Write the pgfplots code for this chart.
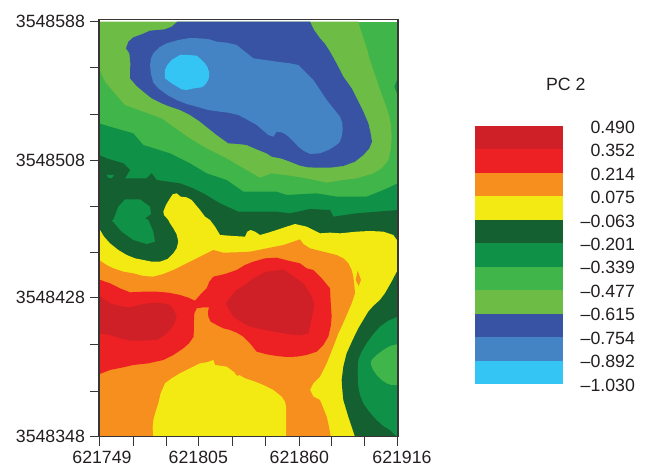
\documentclass[border=0pt]{standalone}
\usepackage{fontspec}
\setmainfont{Liberation Sans}
\usepackage{pgfplots}
\pgfplotsset{compat=1.18}
\definecolor{cDkRed}{HTML}{CF2027}
\definecolor{cRed}{HTML}{ED2024}
\definecolor{cOrange}{HTML}{F78F1E}
\definecolor{cYellow}{HTML}{F3EA14}
\definecolor{cDkGreen}{HTML}{156030}
\definecolor{cGreen}{HTML}{0F9147}
\definecolor{cLtGreen}{HTML}{40B549}
\definecolor{cOlive}{HTML}{6DBC45}
\definecolor{cBlue}{HTML}{3953A4}
\definecolor{cMidBlue}{HTML}{4484C4}
\definecolor{cCyan}{HTML}{35C5F4}
\definecolor{cText}{HTML}{231F20}
\pgfplotsset{region/.style={fill=#1,draw=none,mark=none}}
\begin{document}
\begin{tikzpicture}[x=1pt,y=1pt]
\useasboundingbox (0,0) rectangle (488.25,349.5);
% map, coordinates are in plot units: x along easting, y down from the top
\begin{axis}[
  at={(74.25pt,22pt)},anchor=south west,
  scale only axis,width=224.25pt,height=313pt,
  xmin=27,xmax=924,ymin=58,ymax=1310,
  y dir=reverse,
  axis on top,
  tick pos=left,
  tick align=outside,
  axis line style={draw=cText!90,line width=0.9pt},
  every tick/.style={draw=cText!90,line width=0.7pt},
  major tick length=7pt,minor tick length=7pt,
  xtick={28,325,628,922},
  xticklabels={\hspace{4pt}621749,621805,621860,\hspace{7pt}621916},
  minor xtick={130,228,428,525,725,823},
  ytick={65,482,893,1310},
  yticklabels={3548588,3548508,3548428,3548348},
  minor ytick={202,342,618,758,1033,1175},
  tick label style={font=\fontsize{13.3}{15}\selectfont,text=cText},
]
\addplot[region=cLtGreen] coordinates {(27,65)(924,65)(924,1310)(27,1310)} --cycle;
\addplot[region=cGreen] coordinates {(924,232)(913,260)(924,288)} --cycle;
\addplot[region=cOlive] coordinates {(27,65)(805,65)(812,90)(822,120)(832,150)(838,175)(850,210)(860,240)(872,275)(885,310)(897,345)(903,375)(905,410)(903,445)(895,480)(875,505)(850,520)(800,535)(760,540)(710,548)(650,535)(600,527)(545,520)(510,533)(470,510)(410,475)(350,445)(300,415)(250,380)(215,355)(160,335)(105,315)(70,275)(45,245)(27,205)} --cycle;
\addplot[region=cBlue] coordinates {(262,65)(245,80)(225,88)(180,92)(155,103)(130,112)(115,125)(108,145)(118,160)(121,190)(120,235)(140,258)(160,275)(185,295)(215,310)(240,320)(270,330)(300,345)(330,365)(355,385)(380,405)(415,430)(445,432)(470,435)(500,448)(530,460)(545,470)(575,476)(600,485)(630,497)(655,502)(680,503)(720,503)(760,498)(795,485)(820,465)(838,445)(846,425)(842,400)(835,370)(820,335)(800,295)(785,265)(760,230)(742,195)(720,155)(705,132)(690,115)(672,90)(660,65)} --cycle;
\addplot[region=cMidBlue] coordinates {(180,195)(183,175)(190,160)(208,142)(230,130)(248,125)(265,120)(300,114)(330,115)(358,118)(380,125)(410,128)(440,135)(465,155)(490,175)(525,180)(560,185)(600,190)(625,195)(648,218)(670,240)(690,270)(710,300)(730,325)(750,350)(757,370)(758,390)(755,410)(748,428)(732,440)(715,450)(690,460)(660,462)(640,452)(625,440)(608,422)(590,405)(575,397)(560,395)(550,410)(535,405)(500,375)(470,358)(445,345)(415,338)(390,335)(355,330)(320,320)(290,312)(260,300)(232,285)(205,265)(190,248)(183,222)} --cycle;
\addplot[region=cCyan] coordinates {(225,210)(232,195)(245,180)(258,172)(270,165)(295,165)(320,167)(333,178)(345,190)(353,203)(357,215)(357,230)(355,240)(345,255)(335,262)(312,265)(290,270)(275,268)(265,262)(245,250)(225,235)} --cycle;
\addplot[region=cGreen] coordinates {(27,370)(60,380)(130,400)(160,435)(240,460)(300,490)(350,520)(410,540)(460,575)(500,575)(560,575)(590,585)(680,580)(740,590)(830,590)(880,570)(924,550)(924,1310)(27,1310)} --cycle;
\addplot[region=cDkGreen] coordinates {(27,465)(50,475)(100,490)(120,510)(105,535)(170,535)(185,520)(200,540)(270,550)(310,565)(340,580)(390,610)(445,635)(560,635)(600,640)(660,627)(720,630)(730,650)(800,640)(924,630)(924,1310)(27,1310)} --cycle;
\addplot[region=cGreen] coordinates {(50,525)(72,525)(65,535)(55,533)} --cycle;
\addplot[region=cGreen] coordinates {(70,660)(85,620)(105,598)(150,598)(180,620)(183,642)(165,655)(175,660)(190,695)(195,725)(170,732)(130,720)(95,695)(65,660)} --cycle;
\addplot[region=cYellow] coordinates {(27,685)(42,710)(60,730)(85,750)(110,765)(135,775)(160,780)(185,785)(210,785)(233,777)(250,760)(260,745)(265,725)(260,703)(250,685)(240,670)(235,660)(222,645)(220,635)(228,615)(240,595)(248,583)(260,580)(272,590)(290,592)(305,600)(330,630)(345,650)(360,660)(375,680)(390,705)(430,708)(465,710)(472,695)(482,690)(495,695)(510,705)(535,698)(560,690)(590,680)(615,672)(650,680)(690,700)(720,698)(750,700)(800,695)(840,693)(880,695)(910,705)(922,722)(924,1310)(27,1310)} --cycle;
\addplot[region=cOrange] coordinates {(27,780)(50,795)(70,805)(100,815)(130,820)(160,828)(190,830)(220,822)(250,810)(280,795)(310,780)(340,765)(370,750)(400,758)(440,757)(480,755)(530,745)(580,735)(610,725)(630,718)(640,732)(660,745)(700,755)(740,765)(760,775)(775,790)(785,810)(790,830)(793,855)(795,880)(785,910)(770,945)(757,975)(745,1000)(730,1040)(710,1090)(690,1130)(670,1150)(660,1170)(670,1190)(690,1200)(700,1225)(710,1250)(717,1280)(722,1310)(27,1310)} --cycle;
\addplot[region=cOrange] coordinates {(803,812)(813,840)(806,858)(797,840)} --cycle;
\addplot[region=cRed] coordinates {(27,838)(45,845)(60,850)(90,865)(120,877)(160,875)(200,875)(235,878)(270,885)(295,893)(315,902)(330,885)(350,865)(358,845)(370,830)(405,822)(440,810)(465,795)(490,785)(525,775)(560,773)(595,782)(630,790)(650,805)(670,810)(695,835)(720,865)(722,905)(725,950)(722,980)(715,1010)(700,1035)(680,1055)(650,1065)(620,1070)(590,1071)(560,1068)(530,1063)(500,1055)(480,1030)(460,1010)(440,998)(420,990)(400,985)(380,975)(362,965)(355,950)(354,935)(357,922)(340,922)(320,925)(313,940)(312,960)(311,1010)(297,1030)(280,1045)(250,1065)(220,1080)(175,1090)(130,1095)(95,1103)(60,1110)(27,1123)} --cycle;
\addplot[region=cDkRed] coordinates {(27,885)(42,897)(60,910)(90,918)(120,922)(155,913)(190,908)(220,910)(240,915)(252,930)(260,950)(253,972)(240,990)(222,1007)(200,1020)(160,1022)(120,1022)(90,1015)(60,1005)(27,1000)} --cycle;
\addplot[region=cDkRed] coordinates {(408,910)(422,890)(440,870)(465,855)(490,835)(510,825)(530,815)(555,812)(580,808)(612,830)(640,850)(657,875)(670,900)(673,915)(670,930)(663,965)(655,1000)(632,1006)(610,1005)(580,1000)(550,995)(515,988)(480,980)(455,967)(430,950)(418,930)} --cycle;
\addplot[region=cYellow] coordinates {(190,1310)(188,1285)(190,1260)(197,1235)(205,1210)(212,1180)(225,1150)(245,1135)(270,1120)(300,1105)(330,1090)(350,1087)(370,1080)(375,1095)(410,1100)(430,1115)(465,1135)(495,1145)(520,1155)(550,1170)(575,1190)(585,1205)(588,1220)(588,1310)} --cycle;
\addplot[region=cOrange] coordinates {(443,1112)(452,1120)(443,1128)(434,1120)} --cycle;
\addplot[region=cDkGreen] coordinates {(924,810)(918,820)(905,845)(885,880)(870,900)(850,918)(835,935)(820,960)(805,985)(788,1020)(770,1060)(760,1100)(755,1140)(757,1170)(760,1200)(775,1250)(795,1310)(924,1310)} --cycle;
\addplot[region=cGreen] coordinates {(924,950)(895,962)(870,980)(848,1005)(830,1030)(815,1055)(805,1080)(803,1120)(805,1160)(810,1185)(820,1210)(840,1238)(860,1260)(880,1278)(900,1290)(915,1305)(924,1310)} --cycle;
\addplot[region=cLtGreen] coordinates {(924,1032)(900,1038)(880,1050)(860,1065)(845,1080)(842,1090)(845,1100)(851,1112)(860,1125)(875,1140)(890,1150)(905,1155)(924,1155)} --cycle;
\end{axis}
% colour key
\begin{axis}[
  at={(356.25pt,61.5pt)},anchor=south west,
  scale only axis,width=66pt,height=193.5pt,
  xmin=0,xmax=1,ymin=-1.03,ymax=0.49,
  axis line style={draw=none},
  xtick=\empty,
  ytick={0.49,0.352,0.214,0.075,-0.063,-0.201,-0.339,-0.477,-0.615,-0.754,-0.892,-1.03},
  yticklabels={0.490,0.352,0.214,0.075,--0.063,--0.201,--0.339,--0.477,--0.615,--0.754,--0.892,--1.030},
  yticklabel pos=right,
  major tick length=0pt,
  tick style={draw=none},
  yticklabel style={anchor=east,xshift=57.5pt,yshift=-0.8pt,font=\fontsize{13.3}{15}\selectfont,text=cText},
]
\addplot[region=cDkRed] coordinates {(0,0.49)(1,0.49)(1,0.352)(0,0.352)} --cycle;
\addplot[region=cRed] coordinates {(0,0.352)(1,0.352)(1,0.214)(0,0.214)} --cycle;
\addplot[region=cOrange] coordinates {(0,0.214)(1,0.214)(1,0.075)(0,0.075)} --cycle;
\addplot[region=cYellow] coordinates {(0,0.075)(1,0.075)(1,-0.063)(0,-0.063)} --cycle;
\addplot[region=cDkGreen] coordinates {(0,-0.063)(1,-0.063)(1,-0.201)(0,-0.201)} --cycle;
\addplot[region=cGreen] coordinates {(0,-0.201)(1,-0.201)(1,-0.339)(0,-0.339)} --cycle;
\addplot[region=cLtGreen] coordinates {(0,-0.339)(1,-0.339)(1,-0.477)(0,-0.477)} --cycle;
\addplot[region=cOlive] coordinates {(0,-0.477)(1,-0.477)(1,-0.615)(0,-0.615)} --cycle;
\addplot[region=cBlue] coordinates {(0,-0.615)(1,-0.615)(1,-0.754)(0,-0.754)} --cycle;
\addplot[region=cMidBlue] coordinates {(0,-0.754)(1,-0.754)(1,-0.892)(0,-0.892)} --cycle;
\addplot[region=cCyan] coordinates {(0,-0.892)(1,-0.892)(1,-1.03)(0,-1.03)} --cycle;
\end{axis}
\node[font=\fontsize{13.3}{15}\selectfont,text=cText] at (424.3,286.5) {PC 2};
\end{tikzpicture}
\end{document}
